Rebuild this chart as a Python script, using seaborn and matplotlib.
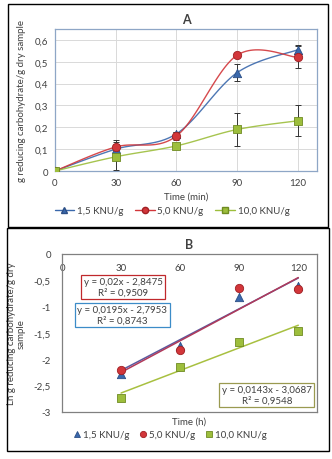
import numpy as np
import pandas as pd
import matplotlib
matplotlib.use("Agg")
import matplotlib.pyplot as plt
from matplotlib.patches import Rectangle
from matplotlib.lines import Line2D
from matplotlib.ticker import FuncFormatter
import seaborn as sns

# ---- data -------------------------------------------------------------
time_min = [0, 30, 60, 90, 120]
series = ["1,5 KNU/g", "5,0 KNU/g", "10,0 KNU/g"]

yield_15 = [0.0, 0.10, 0.17, 0.45, 0.555]
yield_50 = [0.0, 0.11, 0.16, 0.53, 0.52]
yield_100 = [0.0, 0.065, 0.115, 0.19, 0.23]
err_15 = [0.0, 0.035, 0.01, 0.04, 0.02]
err_50 = [0.0, 0.03, 0.02, 0.01, 0.05]
err_100 = [0.0, 0.06, 0.01, 0.075, 0.07]

time_h = [30, 60, 90, 120]
ln_15 = [-2.27, -1.75, -0.82, -0.60]
ln_50 = [-2.20, -1.83, -0.65, -0.67]
ln_100 = [-2.73, -2.15, -1.67, -1.47]

slopes = [0.0195, 0.02, 0.0143]
intercepts = [-2.7953, -2.8475, -3.0687]
eq_labels = ["y = 0,0195x - 2,7953\nR² = 0,8743",
             "y = 0,02x - 2,8475\nR² = 0,9509",
             "y = 0,0143x - 3,0687\nR² = 0,9548"]

# ---- style ------------------------------------------------------------
sns.set_theme(style="white")
plt.rcParams["font.family"] = ["Lato", "DejaVu Sans"]
plt.rcParams["axes.unicode_minus"] = False

colors = ["#3A68AC", "#D2363A", "#9DBE3C"]
edges = ["#2C4F86", "#A02024", "#6F8B22"]
markers = ["^", "o", "s"]
TXT = "#404040"
comma = FuncFormatter(lambda v, _: f"{v:g}".replace(".", ","))

W, H = 332, 460
fig = plt.figure(figsize=(W / 100, H / 100), dpi=100)


def box(l, t, r, b):
    return [l / W, 1 - b / H, (r - l) / W, (b - t) / H]


def smooth(x, y, n=30):
    """Bezier smoothing through the points (Catmull-Rom style)."""
    p = np.column_stack([x, y]).astype(float)
    out = []
    for i in range(len(p) - 1):
        p0 = p[i - 1] if i > 0 else p[i]
        p3 = p[i + 2] if i + 2 < len(p) else p[i + 1]
        c1 = p[i] + (p[i + 1] - p0) / 6
        c2 = p[i + 1] - (p3 - p[i]) / 6
        t = np.linspace(0, 1, n)[:, None]
        seg = ((1 - t) ** 3 * p[i] + 3 * (1 - t) ** 2 * t * c1
               + 3 * (1 - t) * t ** 2 * c2 + t ** 3 * p[i + 1])
        out.append(seg if i == 0 else seg[1:])
    s = np.vstack(out)
    return s[:, 0], s[:, 1]


# outer frames
for (l, t, r, b) in [(8, 5, 328, 228), (7, 229, 329, 452)]:
    fig.patches.append(Rectangle((l / W, 1 - b / H), (r - l) / W, (b - t) / H,
                                 transform=fig.transFigure, fill=False,
                                 edgecolor="black", linewidth=1.0))

# ---- panel A ----------------------------------------------------------
axA = fig.add_axes(box(55, 30, 317, 172))
dfA = pd.DataFrame({
    "time": time_min * 3,
    "value": yield_15 + yield_50 + yield_100,
    "err": err_15 + err_50 + err_100,
    "series": np.repeat(series, len(time_min)),
})
for k, name in enumerate(series):
    d = dfA[dfA["series"] == name]
    sx, sy = smooth(d["time"].values, d["value"].values)
    axA.plot(sx, sy, color=colors[k], lw=1.0, alpha=0.9, zorder=2)
    axA.errorbar(d["time"], d["value"], yerr=d["err"], fmt="none",
                 ecolor="#333333", elinewidth=0.7, capsize=2, capthick=0.7,
                 zorder=3)
    sns.scatterplot(data=d, x="time", y="value", color=colors[k],
                    marker=markers[k], s=36, edgecolor=edges[k], linewidth=0.6,
                    legend=False, ax=axA, zorder=4)
axA.set_xlim(0, 129.5)
axA.set_ylim(0, 0.65)
axA.set_xticks(time_min)
axA.set_yticks(np.arange(0, 0.61, 0.1))
axA.yaxis.set_major_formatter(comma)
axA.grid(True, color="#D9D9D9", lw=0.7)
axA.set_axisbelow(True)
for sp in axA.spines.values():
    sp.set_color("#8EA6C6")
    sp.set_linewidth(0.9)
axA.tick_params(length=0, labelsize=7, colors=TXT, pad=5)
axA.set_xlabel("Time (min)", fontsize=7, color=TXT, labelpad=3)
axA.set_ylabel("g reducing carbohydrate/g dry sample", fontsize=7,
               color=TXT, labelpad=6)
axA.set_title("A", fontsize=9, fontweight="bold", color="#404040", pad=4)
handlesA = [Line2D([], [], color=colors[k], marker=markers[k], markersize=4.5,
                   markerfacecolor=colors[k], markeredgecolor=edges[k], lw=1.0)
            for k in range(3)]
fig.legend(handlesA, series, loc="center", bbox_to_anchor=(172 / W, 1 - 212 / H),
           ncol=3, frameon=False, fontsize=7, handlelength=2.0,
           handletextpad=0.3, columnspacing=1.2, labelcolor=TXT)

# ---- panel B ----------------------------------------------------------
axB = fig.add_axes(box(62, 255, 317, 413))
dfB = pd.DataFrame({
    "time": time_h * 3,
    "value": ln_15 + ln_50 + ln_100,
    "series": np.repeat(series, len(time_h)),
})
xfit = np.array([time_h[0], time_h[-1]])
fit_colors = ["#5A5AA0", "#B03A5A", "#A8C040"]
for k in range(3):
    axB.plot(xfit, slopes[k] * xfit + intercepts[k], color=fit_colors[k],
             lw=1.1, zorder=2)
for k, name in enumerate(series):
    d = dfB[dfB["series"] == name]
    sns.scatterplot(data=d, x="time", y="value", color=colors[k],
                    marker=markers[k], s=36, edgecolor=edges[k], linewidth=0.6,
                    legend=False, ax=axB, zorder=4)
axB.set_xlim(0, 129.5)
axB.set_ylim(-3, 0)
axB.set_xticks([0] + time_h)
axB.set_yticks(np.arange(-3, 0.01, 0.5))
axB.yaxis.set_major_formatter(comma)
axB.xaxis.tick_top()
axB.tick_params(axis="x", top=False, labeltop=True, bottom=False,
                labelbottom=False, length=0, pad=-13, labelsize=7, colors=TXT)
axB.tick_params(axis="y", length=0, labelsize=7, colors=TXT, pad=8)
for sp in axB.spines.values():
    sp.set_color("#808080")
    sp.set_linewidth(0.9)
axB.set_xlabel("Time (h)", fontsize=7, color=TXT, labelpad=3)
axB.set_ylabel("Ln g reducing carbohydrate/g dry\nsample", fontsize=7,
               color=TXT, labelpad=6, linespacing=1.1)
axB.set_title("B", fontsize=9, fontweight="bold", color="#404040", pad=4)

box_pos = [(30.6, -1.16), (31.0, -0.63), (104.0, -2.68)]
box_edges = ["#3C8CC8", "#C0282C", "#9A9A50"]
for k in range(3):
    axB.text(box_pos[k][0], box_pos[k][1], eq_labels[k], ha="center",
             va="center", fontsize=7, color=TXT, linespacing=1.15,
             bbox=dict(boxstyle="square,pad=0.25", fc="white",
                       ec=box_edges[k], lw=0.9), zorder=5)

handlesB = [Line2D([], [], ls="none", marker=markers[k], markersize=4.5,
                   markerfacecolor=colors[k], markeredgecolor=edges[k],
                   markeredgewidth=0.6)
            for k in range(3)]
fig.legend(handlesB, series, loc="center", bbox_to_anchor=(170 / W, 1 - 436 / H),
           ncol=3, frameon=False, fontsize=7, handlelength=0.8,
           handletextpad=0.2, columnspacing=1.0, labelcolor=TXT)

fig.savefig("out.png", dpi=100)
